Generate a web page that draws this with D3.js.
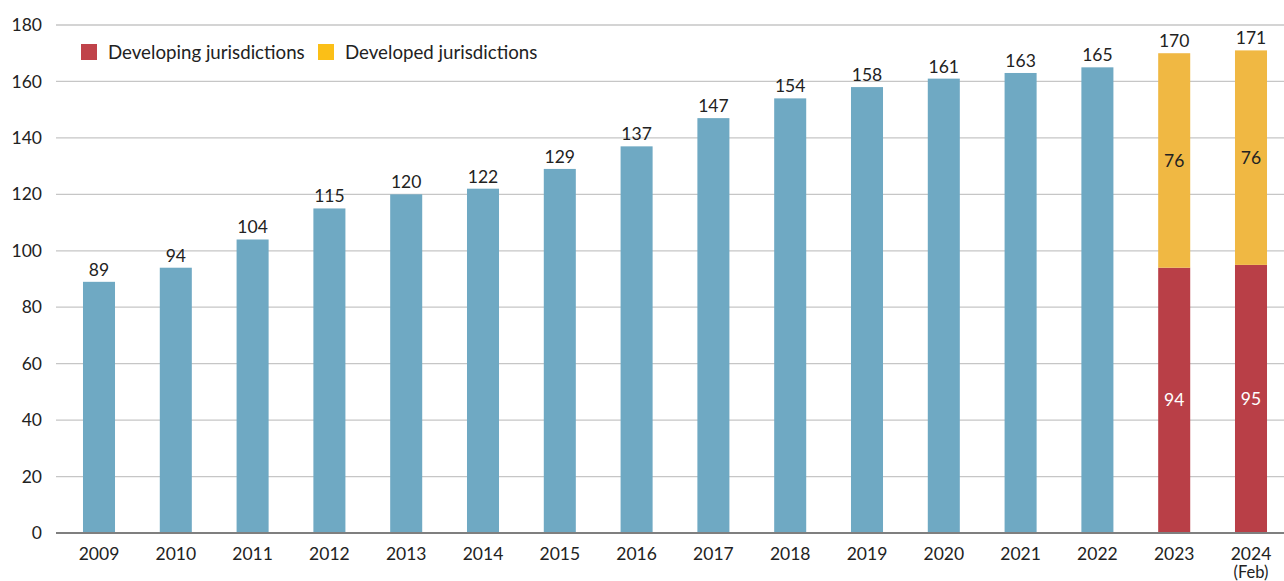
<!DOCTYPE html>
<html>
<head>
<meta charset="utf-8">
<script src="https://cdn.jsdelivr.net/npm/d3@7"></script>
<style>
  html, body { margin: 0; padding: 0; background: #fff; }
  svg { display: block; font-family: Lato, "Open Sans", sans-serif; }
</style>
</head>
<body>
<svg id="chart" width="1284" height="581"></svg>
<script>
// Years shown on the x axis
const years = ["2009","2010","2011","2012","2013","2014","2015","2016","2017","2018","2019","2020","2021","2022","2023","2024"];
// Second line under some year labels
const yearNotes = ["","","","","","","","","","","","","","","","(Feb)"];
// Total count per year (single bar, before the split was reported)
const totals = [89, 94, 104, 115, 120, 122, 129, 137, 147, 154, 158, 161, 163, 165, null, null];
// Split years: developing + developed
const developing = [null, null, null, null, null, null, null, null, null, null, null, null, null, null, 94, 95];
const developed  = [null, null, null, null, null, null, null, null, null, null, null, null, null, null, 76, 76];
const yTicks = [0, 20, 40, 60, 80, 100, 120, 140, 160, 180];
const legendLabels = ["Developing jurisdictions", "Developed jurisdictions"];

const colTotal = "#6fa9c3";
const colDeveloping = "#b93f47";
const colDeveloped = "#f0b843";
const legendColors = ["#c0434a", "#fbbf17"];

const svg = d3.select("#chart");
const W = 1284, H = 581;

const y = d3.scaleLinear().domain([0, 180]).range([533, 25]);
const x = d3.scaleBand().domain(years).range([60.6, 1289.4])
  .paddingInner(0.583).paddingOuter(0.2915);

// Gridlines
svg.append("g").selectAll("line").data(yTicks.filter(d => d > 0)).join("line")
  .attr("x1", 56).attr("x2", W)
  .attr("y1", d => y(d)).attr("y2", d => y(d))
  .attr("stroke", "#c6c6c6").attr("stroke-width", 1.3);

// Y tick labels
svg.append("g").selectAll("text").data(yTicks).join("text")
  .attr("x", 42).attr("y", d => y(d)).attr("dy", "0.35em")
  .attr("text-anchor", "end").attr("font-size", 17.5).attr("fill", "#222")
  .text(d => d);

// Single-total bars
const single = years.map((yr, i) => ({ yr, v: totals[i] })).filter(d => d.v != null);
svg.append("g").selectAll("rect").data(single).join("rect")
  .attr("x", d => x(d.yr)).attr("width", x.bandwidth())
  .attr("y", d => y(d.v)).attr("height", d => y(0) - y(d.v))
  .attr("fill", colTotal);
svg.append("g").selectAll("text").data(single).join("text")
  .attr("x", d => x(d.yr) + x.bandwidth() / 2).attr("y", d => y(d.v) - 6)
  .attr("text-anchor", "middle").attr("font-size", 17.5).attr("fill", "#222")
  .text(d => d.v);

// Stacked bars
const split = years.map((yr, i) => ({ yr, a: developing[i], b: developed[i] })).filter(d => d.a != null);
const gs = svg.append("g");
gs.selectAll("rect.dev").data(split).join("rect").attr("class", "dev")
  .attr("x", d => x(d.yr)).attr("width", x.bandwidth())
  .attr("y", d => y(d.a)).attr("height", d => y(0) - y(d.a))
  .attr("fill", colDeveloping);
gs.selectAll("rect.dvd").data(split).join("rect").attr("class", "dvd")
  .attr("x", d => x(d.yr)).attr("width", x.bandwidth())
  .attr("y", d => y(d.a + d.b)).attr("height", d => y(d.a) - y(d.a + d.b))
  .attr("fill", colDeveloped);
gs.selectAll("text.a").data(split).join("text").attr("class", "a")
  .attr("x", d => x(d.yr) + x.bandwidth() / 2).attr("y", d => y(d.a / 2)).attr("dy", "0.35em")
  .attr("text-anchor", "middle").attr("font-size", 17.5).attr("fill", "#fff")
  .text(d => d.a);
gs.selectAll("text.b").data(split).join("text").attr("class", "b")
  .attr("x", d => x(d.yr) + x.bandwidth() / 2).attr("y", d => y(d.a + d.b / 2)).attr("dy", "0.35em")
  .attr("text-anchor", "middle").attr("font-size", 17.5).attr("fill", "#222")
  .text(d => d.b);
gs.selectAll("text.t").data(split).join("text").attr("class", "t")
  .attr("x", d => x(d.yr) + x.bandwidth() / 2).attr("y", d => y(d.a + d.b) - 6)
  .attr("text-anchor", "middle").attr("font-size", 17.5).attr("fill", "#222")
  .text(d => d.a + d.b);

// Baseline
svg.append("line").attr("x1", 56).attr("x2", W).attr("y1", y(0)).attr("y2", y(0))
  .attr("stroke", "#7f7f7f").attr("stroke-width", 2);

// X axis labels (main line and optional note line as separate texts)
const xg = svg.append("g");
xg.selectAll("text.yr").data(years).join("text").attr("class", "yr")
  .attr("x", d => x(d) + x.bandwidth() / 2).attr("y", 560)
  .attr("text-anchor", "middle").attr("font-size", 17.5).attr("fill", "#222")
  .text(d => d);
xg.selectAll("text.note").data(years.filter((d, i) => yearNotes[i])).join("text").attr("class", "note")
  .attr("x", d => x(d) + x.bandwidth() / 2).attr("y", 578)
  .attr("text-anchor", "middle").attr("font-size", 16.5).attr("fill", "#222")
  .text(d => yearNotes[years.indexOf(d)]);

// Legend
const legX = [81, 318];
const leg = svg.append("g").selectAll("g").data(legendLabels).join("g")
  .attr("transform", (d, i) => `translate(${legX[i]},44)`);
leg.append("rect").attr("width", 16).attr("height", 16).attr("fill", (d, i) => legendColors[i]);
leg.append("text").attr("x", 27).attr("y", 8).attr("dy", "0.35em")
  .attr("font-size", 18.7).attr("fill", "#222").text(d => d);
</script>
</body>
</html>
